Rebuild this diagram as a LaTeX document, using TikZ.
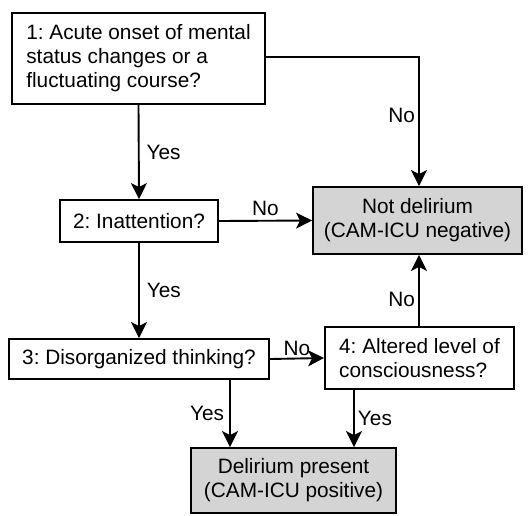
\documentclass[tikz,border=0pt]{standalone}
\usepackage{fontspec}
\setmainfont{Liberation Sans}
\usepackage{xcolor}
\usetikzlibrary{arrows.meta,positioning}

\definecolor{outgray}{gray}{0.83}
\frenchspacing

\begin{document}
\begin{tikzpicture}[
  x=1pt, y=-1pt,
  font=\fontsize{20.8}{24}\selectfont,
  qbox/.style={draw, line width=1.9pt, align=left, inner sep=0pt},
  obox/.style={qbox, fill=outgray, align=center},
  ar/.style={line width=1.9pt, -{Stealth[length=16pt, width=16pt, inset=4pt]}},
  lbl/.style={inner sep=1pt},
]
\useasboundingbox (0,0) rectangle (529,515);

% questions
\node[qbox, minimum width=253pt, minimum height=91pt] (q1) at (138.5, 58.5)
     {1: Acute onset of mental\\status changes or a\\fluctuating course?};
\node[qbox, minimum width=158pt, minimum height=42pt] (q2) at (139, 221)
     {2: Inattention?};
\node[qbox, minimum width=260pt, minimum height=40pt] (q3) at (139, 359)
     {3: Disorganized thinking?};
\node[qbox, minimum width=189pt, minimum height=62pt] (q4) at (419.5, 358)
     {4: Altered level of\\consciousness?};

% outcomes
\node[obox, minimum width=209pt, minimum height=67pt] (neg) at (417.5, 220.5)
     {Not delirium\\(CAM-ICU negative)};
\node[obox, minimum width=205pt, minimum height=65pt] (pos) at (293.5, 480.5)
     {Delirium present\\(CAM-ICU positive)};

\coordinate (k1) at (419, 57);

% yes branches
\draw[ar] (q1.south) -- (q2.north) node[lbl, midway, right=6pt] {Yes};
\draw[ar] (q2.south) -- (q3.north) node[lbl, midway, right=6pt] {Yes};
\draw[ar] (q3.south -| 230,0) -- (pos.north -| 230,0)
     node[lbl, midway, left=4pt] {Yes};
\draw[ar] (q4.south -| 354,0) -- (pos.north -| 354,0)
     node[lbl, midway, right=2pt] {Yes};

% no branches
\draw[ar] (q1.east |- k1) -- (k1) -- (neg.north -| k1)
     node[lbl, pos=0.45, left=2pt] {No};
\draw[ar] (q2.east) -- (neg.west) node[lbl, midway, above=3pt] {No};
\draw[ar] (q3.east) -- (q4.west) node[lbl, midway, above=1pt] {No};
\draw[ar] (q4.north -| k1) -- (neg.south -| k1)
     node[lbl, pos=0.37, left=2pt] {No};
\end{tikzpicture}
\end{document}
